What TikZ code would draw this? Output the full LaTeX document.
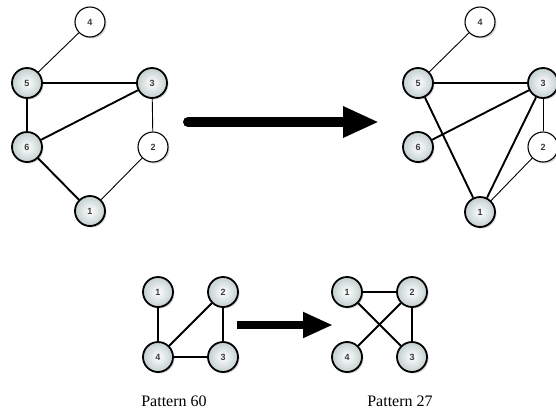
\documentclass[tikz,border=0pt]{standalone}
\usepackage{fontspec}
\setmainfont{Liberation Serif}
\setsansfont{Liberation Sans}
\usepackage{xcolor}
\usetikzlibrary{shadows,arrows.meta}

\definecolor{nodegray}{HTML}{C3CFCF}
\definecolor{labelgray}{HTML}{3A3A3A}

\begin{document}
\begin{tikzpicture}[x=1pt, y=-1pt, node distance={65pt},
    main/.style = {draw, circle, minimum size=30pt, inner sep=0pt, line width=1.8pt,
        inner color=white, outer color=nodegray,
        drop shadow={opacity=0.35, shadow xshift=1.5pt, shadow yshift=-1.5pt},
        font=\sffamily\bfseries\fontsize{9}{9}\selectfont, text=labelgray},
    plain/.style = {main, line width=1.1pt, inner color=white, outer color=white},
    heavy/.style = {line width=1.9pt},
    light/.style = {line width=0.9pt},
    bigarrow/.style = {line width=10pt, line cap=round, -{Triangle[length=36pt, width=29pt]}},
    smallarrow/.style = {line width=8pt, -{Triangle[length=30pt, width=24pt]}}]
    \useasboundingbox (0,0) rectangle (556,413);

    % before
    \node[plain] (a4) at (90,22) {4};
    \node[main] (a5) at (27,83) {5};
    \node[main] (a3) at (152,83) {3};
    \node[main] (a6) at (27,147) {6};
    \node[plain] (a2) at (153,147) {2};
    \node[main] (a1) at (90,211) {1};

    \draw[light] (a4) -- (a5);
    \draw[heavy] (a5) -- (a3);
    \draw[heavy] (a5) -- (a6);
    \draw[heavy] (a6) -- (a3);
    \draw[light] (a3) -- (a2);
    \draw[light] (a2) -- (a1);
    \draw[heavy] (a6) -- (a1);

    % after
    \node[plain] (b4) at (480,22) {4};
    \node[main] (b5) at (418,83) {5};
    \node[main] (b3) at (543,83) {3};
    \node[main] (b6) at (418,147) {6};
    \node[plain] (b2) at (543,147) {2};
    \node[main] (b1) at (480,212) {1};

    \draw[light] (b4) -- (b5);
    \draw[heavy] (b5) -- (b3);
    \draw[heavy] (b5) -- (b1);
    \draw[heavy] (b6) -- (b3);
    \draw[heavy] (b3) -- (b1);
    \draw[light] (b3) -- (b2);
    \draw[light] (b2) -- (b1);

    \coordinate (topL) at (188,122);
    \coordinate (topR) at (379,122);
    \draw[bigarrow] (topL) -- (topR);

    % pattern 60
    \node[main] (c1) at (158,292) {1};
    \node[main] (c2) [right of = c1] {2};
    \node[main] (c4) [below of = c1] {4};
    \node[main] (c3) [below of = c2] {3};

    \draw[heavy] (c1) -- (c4);
    \draw[heavy] (c4) -- (c2);
    \draw[heavy] (c2) -- (c3);
    \draw[heavy] (c4) -- (c3);
    \node (p60) at (174,401) {\fontsize{16}{16}\selectfont Pattern 60};

    % pattern 27
    \node[main] (d1) at (347,292) {1};
    \node[main] (d2) [right of = d1] {2};
    \node[main] (d4) [below of = d1] {4};
    \node[main] (d3) [below of = d2] {3};

    \draw[heavy] (d1) -- (d2);
    \draw[heavy] (d1) -- (d3);
    \draw[heavy] (d4) -- (d2);
    \draw[heavy] (d2) -- (d3);
    \node (p27) at (400,401) {\fontsize{16}{16}\selectfont Pattern 27};

    \coordinate (botL) at (237,325);
    \coordinate (botR) at (333,325);
    \draw[smallarrow] (botL) -- (botR);

\end{tikzpicture}
\end{document}
